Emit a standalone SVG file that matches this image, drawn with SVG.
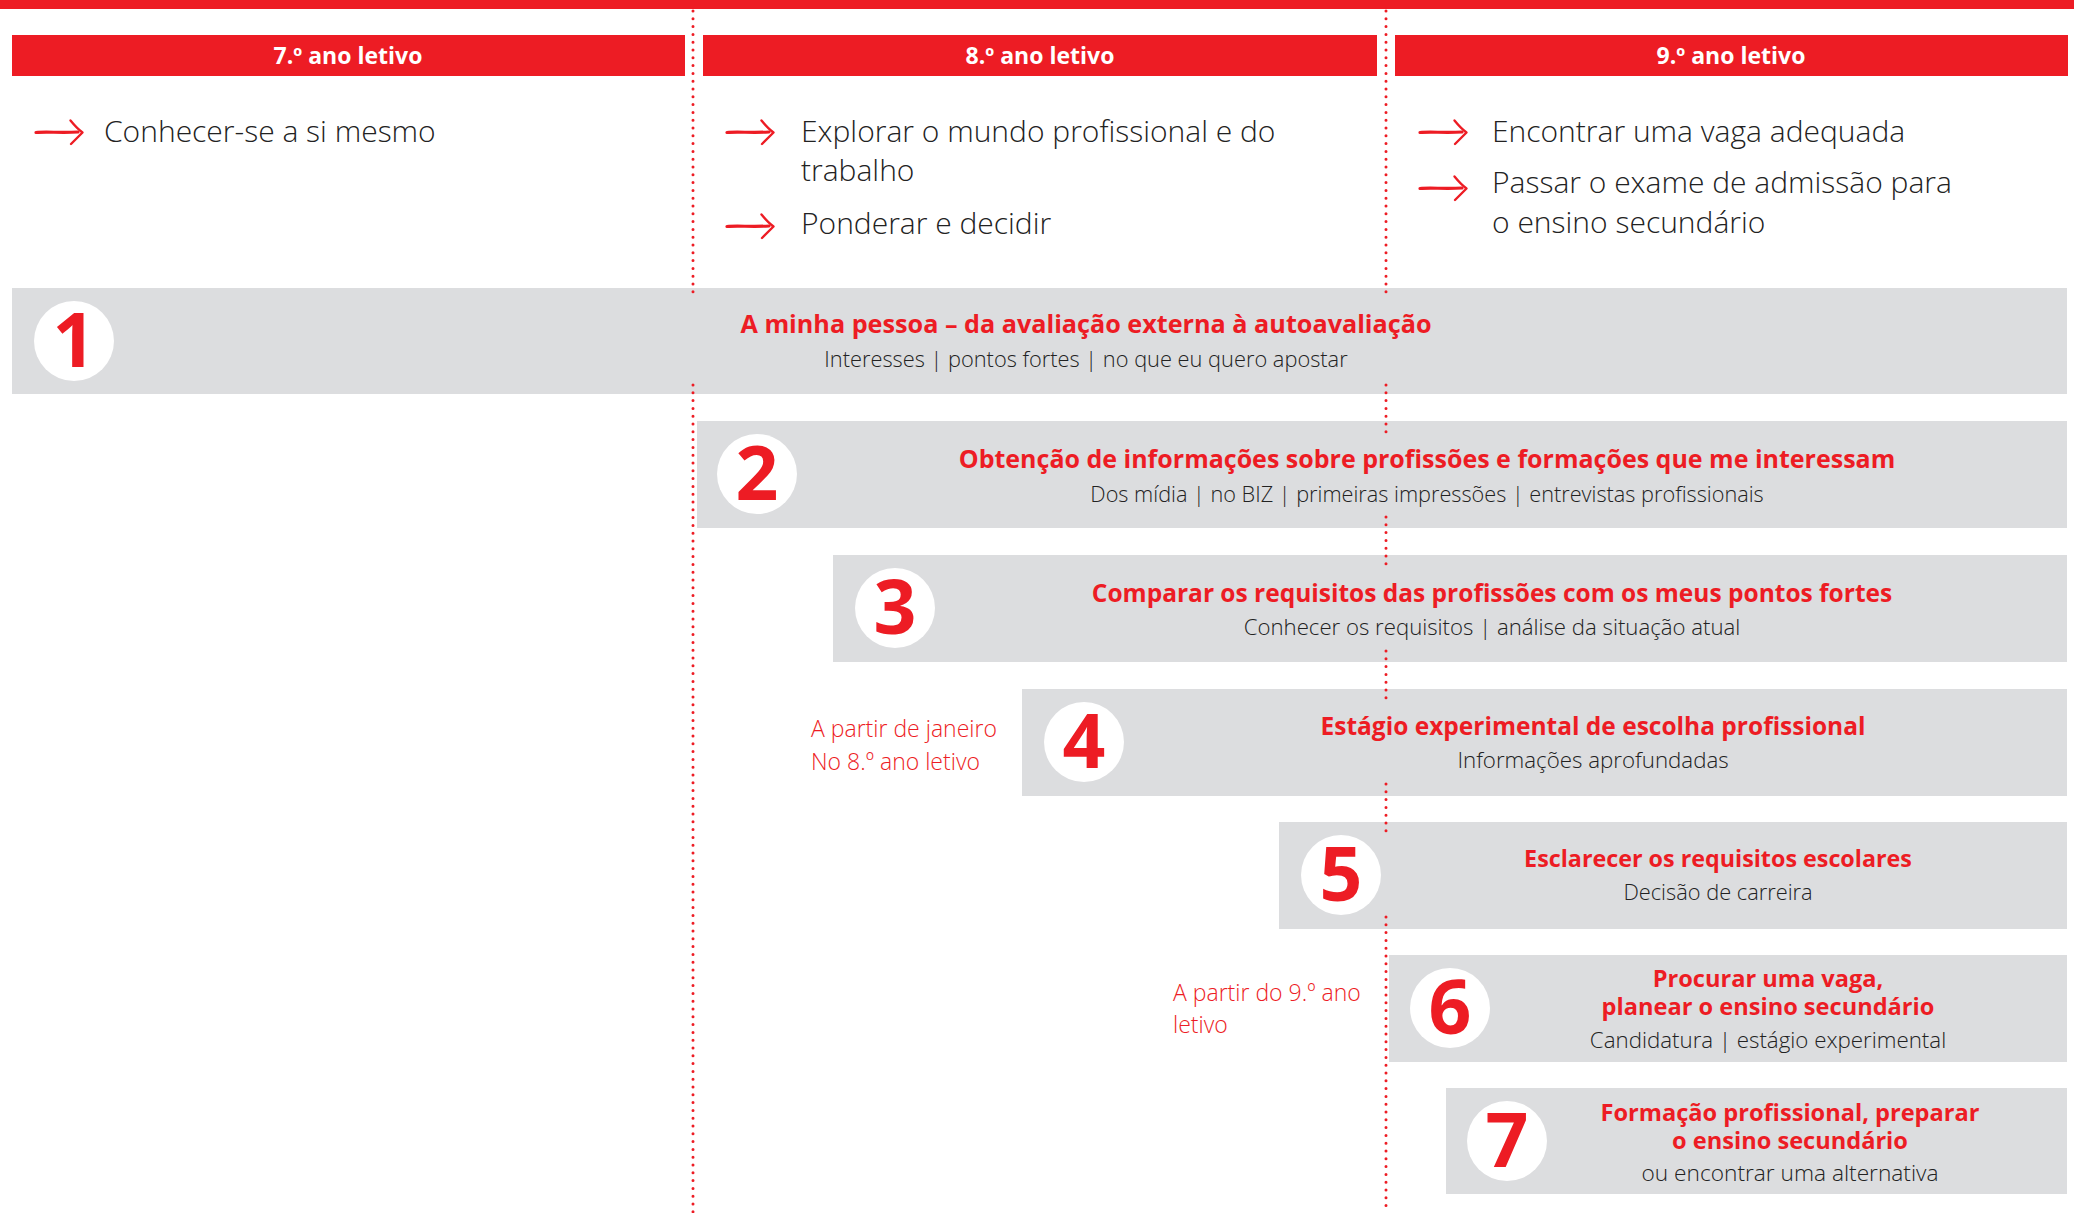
<svg xmlns="http://www.w3.org/2000/svg" xmlns:xlink="http://www.w3.org/1999/xlink" width="2074" height="1213" viewBox="0 0 2074 1213">
<style>
.bar{fill:#ed1c24}
.hd{font-family:"Open Sans","Liberation Sans",sans-serif;font-weight:700;font-size:23px;fill:#fff;text-anchor:middle}
.goal{font-family:"Open Sans","Liberation Sans",sans-serif;font-weight:300;font-size:30px;fill:#222}
.box{fill:#dcdddf}
.circ{fill:#fff}
.num{font-family:"Open Sans","Liberation Sans",sans-serif;font-weight:700;font-size:75px;fill:#ed1c24;text-anchor:middle}
.tt{font-family:"Open Sans","Liberation Sans",sans-serif;font-weight:700;font-size:25px;fill:#ed1c24;text-anchor:middle}
.st{font-family:"Open Sans","Liberation Sans",sans-serif;font-weight:300;font-size:21.8px;fill:#222;text-anchor:middle}
.note{font-family:"Open Sans","Liberation Sans",sans-serif;font-weight:300;font-size:23px;fill:#ed1c24}
.dot{stroke:#ed1c24;stroke-width:3;stroke-linecap:round;stroke-dasharray:0 7.8;fill:none}
.arw{stroke:#ed1c24;fill:none;stroke-linecap:round;stroke-linejoin:round}
</style>
<defs>
<g id="arrow">
<path class="arw" d="M0,0.5 C10,-0.5 25,1 42,0" stroke-width="3.2"/>
<path class="arw" d="M34.5,-11.5 C39,-6 43,-2 46.5,0.5 C43,4 39,8 35,12" stroke-width="2.4"/>
</g>
</defs>

<rect class="bar" x="0" y="0" width="2074" height="9"/>

<g id="headers">
<g id="header-7">
<rect class="bar" x="12" y="35" width="673" height="41"/>
<text class="hd" x="348" y="64">7.º ano letivo</text>
</g>
<g id="header-8">
<rect class="bar" x="703" y="35" width="674" height="41"/>
<text class="hd" x="1040" y="64">8.º ano letivo</text>
</g>
<g id="header-9">
<rect class="bar" x="1395" y="35" width="673" height="41"/>
<text class="hd" x="1731" y="64">9.º ano letivo</text>
</g>
</g>

<g id="goals">
<g id="goals-7">
<use xlink:href="#arrow" x="36" y="132"/>
<text class="goal" x="104" y="142">Conhecer-se a si mesmo</text>
</g>
<g id="goals-8">
<use xlink:href="#arrow" x="727" y="132"/>
<text class="goal" x="801" y="142">Explorar o mundo profissional e do</text>
<text class="goal" x="801" y="181">trabalho</text>
<use xlink:href="#arrow" x="727" y="226"/>
<text class="goal" x="801" y="234">Ponderar e decidir</text>
</g>
<g id="goals-9">
<use xlink:href="#arrow" x="1420" y="132"/>
<text class="goal" x="1492" y="142">Encontrar uma vaga adequada</text>
<use xlink:href="#arrow" x="1420" y="188"/>
<text class="goal" x="1492" y="193">Passar o exame de admissão para</text>
<text class="goal" x="1492" y="233">o ensino secundário</text>
</g>
</g>

<g id="step1">
<rect class="box" x="12" y="288" width="2055" height="106"/>
<circle class="circ" cx="74" cy="341" r="40"/>
<text class="num" x="74" y="367">1</text>
<text class="tt" x="1086" y="333" style="font-size:25.2px">A minha pessoa – da avaliação externa à autoavaliação</text>
<text class="st" x="1086" y="367">Interesses | pontos fortes | no que eu quero apostar</text>
</g>

<g id="step2">
<rect class="box" x="697" y="421" width="1370" height="107"/>
<circle class="circ" cx="757" cy="474" r="40"/>
<text class="num" x="757" y="500">2</text>
<text class="tt" x="1427" y="468">Obtenção de informações sobre profissões e formações que me interessam</text>
<text class="st" x="1427" y="502" style="font-size:21.7px">Dos mídia | no BIZ | primeiras impressões | entrevistas profissionais</text>
</g>

<g id="step3">
<rect class="box" x="833" y="555" width="1234" height="107"/>
<circle class="circ" cx="895" cy="608" r="40"/>
<text class="num" x="895" y="634">3</text>
<text class="tt" x="1492" y="602" style="font-size:24.5px">Comparar os requisitos das profissões com os meus pontos fortes</text>
<text class="st" x="1492" y="635" style="font-size:22.2px">Conhecer os requisitos | análise da situação atual</text>
</g>

<g id="step4">
<rect class="box" x="1022" y="689" width="1045" height="107"/>
<circle class="circ" cx="1084" cy="742" r="40"/>
<text class="num" x="1084" y="768">4</text>
<text class="tt" x="1593" y="735" style="font-size:24.5px">Estágio experimental de escolha profissional</text>
<text class="st" x="1593" y="768" style="font-size:22.3px">Informações aprofundadas</text>
<text class="note" x="811" y="737">A partir de janeiro</text>
<text class="note" x="811" y="770">No 8.º ano letivo</text>
</g>

<g id="step5">
<rect class="box" x="1279" y="822" width="788" height="107"/>
<circle class="circ" cx="1341" cy="875" r="40"/>
<text class="num" x="1341" y="901">5</text>
<text class="tt" x="1718" y="867" style="font-size:23.3px">Esclarecer os requisitos escolares</text>
<text class="st" x="1718" y="900">Decisão de carreira</text>
</g>

<g id="step6">
<rect class="box" x="1389" y="955" width="678" height="107"/>
<circle class="circ" cx="1450" cy="1008" r="40"/>
<text class="num" x="1450" y="1034">6</text>
<text class="tt" x="1768" y="987" style="font-size:23.6px">Procurar uma vaga,</text>
<text class="tt" x="1768" y="1015" style="font-size:23.6px">planear o ensino secundário</text>
<text class="st" x="1768" y="1048" style="font-size:22.3px">Candidatura | estágio experimental</text>
<text class="note" x="1173" y="1001">A partir do 9.º ano</text>
<text class="note" x="1173" y="1033">letivo</text>
</g>

<g id="step7">
<rect class="box" x="1446" y="1088" width="621" height="106"/>
<circle class="circ" cx="1507" cy="1141" r="40"/>
<text class="num" x="1507" y="1167">7</text>
<text class="tt" x="1790" y="1121" style="font-size:23.6px">Formação profissional, preparar</text>
<text class="tt" x="1790" y="1149" style="font-size:23.6px">o ensino secundário</text>
<text class="st" x="1790" y="1181" style="font-size:22.7px">ou encontrar uma alternativa</text>
</g>

<g id="connectors">
<path class="dot" d="M693,11 V296 M693,385 V1212"/>
<path class="dot" d="M1386,11 V296 M1386,385 V433 M1386,517 V565 M1386,651 V698 M1386,784 V832 M1386,917 V1212"/>
</g>
</svg>
